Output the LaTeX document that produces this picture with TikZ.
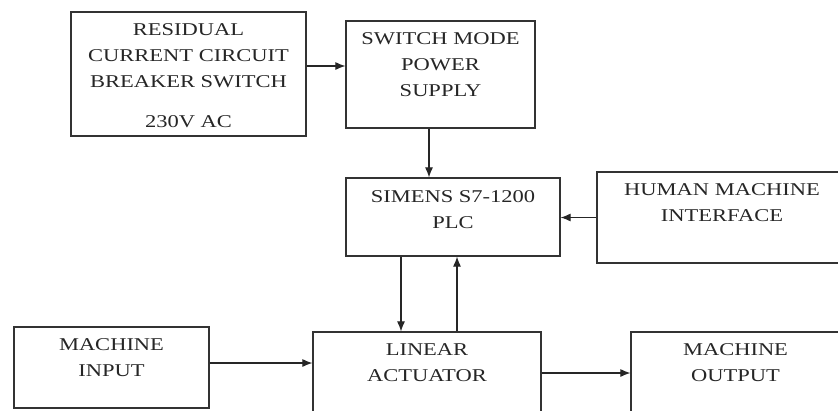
\documentclass[tikz,border=0pt]{standalone}
\usepackage{fontspec}
\setmainfont{Liberation Serif}[FakeStretch=1.25]
\usetikzlibrary{positioning,arrows.meta}
\begin{document}
\begin{tikzpicture}[
    x=1pt, y=-1pt,
    every node/.style={font=\fontsize{18}{26}\selectfont},
    block/.style={draw=black!80, line width=1.2pt, inner sep=0pt},
    caption/.style={align=center, inner sep=0pt, text=black!85},
    link/.style={draw=black!85, line width=1.1pt, -{Latex[length=10pt,width=8pt]}},
]

% Frame
\path[fill=white, use as bounding box] (0,0) rectangle (838,410);
\clip (0,0) rectangle (838,410);

% Blocks (top row)
\node[block, minimum width=235pt, minimum height=124pt] (rccb) at (188.5,74) {};
\node[block, minimum width=189pt, minimum height=107pt] (smps) at (440.5,74.5) {};

% Blocks (middle row)
\node[block, minimum width=214pt, minimum height=78pt] (plc) at (453,217) {};
\node[block, minimum width=250pt, minimum height=91pt] (hmi) at (722,217.5) {};

% Blocks (bottom row)
\node[block, minimum width=195pt, minimum height=81pt] (min) at (111.5,367.5) {};
\node[block, minimum width=228pt, minimum height=86pt] (la) at (427,375) {};
\node[block, minimum width=209pt, minimum height=86pt] (mout) at (735.5,375) {};

% Texts
\node[caption, below=12pt of rccb.north] (rccbtext) {RESIDUAL\\CURRENT CIRCUIT\\BREAKER SWITCH\\[14pt]230V AC};
\node[caption, below=12pt of smps.north] (smpstext) {SWITCH MODE\\POWER\\SUPPLY};
\node[caption, below=13pt of plc.north] (plctext) {SIMENS S7-1200\\PLC};
\node[caption, below=12pt of hmi.north] (hmitext) {HUMAN MACHINE\\INTERFACE};
\node[caption, below=12pt of min.north] (mintext) {MACHINE\\INPUT};
\node[caption, below=12pt of la.north] (latext) {LINEAR\\ACTUATOR};
\node[caption, below=12pt of mout.north] (mouttext) {MACHINE\\OUTPUT};

% Connectors
\draw[link] ([yshift=8pt]rccb.east) -- ([yshift=8pt]rccb.east -| smps.west);
\draw[link] ([xshift=-11.5pt]smps.south) -- ([xshift=-11.5pt]smps.south |- plc.north);
\draw[link] (hmi.west) -- (hmi.west -| plc.east);
\draw[link] ([xshift=-52pt]plc.south) -- ([xshift=-52pt]plc.south |- la.north);
\draw[link] ([xshift=4pt]plc.south |- la.north) -- ([xshift=4pt]plc.south);
\draw[link] ([yshift=4.5pt]min.east) -- ([yshift=4.5pt]min.east -| la.west);
\draw[link] ([yshift=2pt]la.east) -- ([yshift=2pt]la.east -| mout.west);

\end{tikzpicture}
\end{document}
